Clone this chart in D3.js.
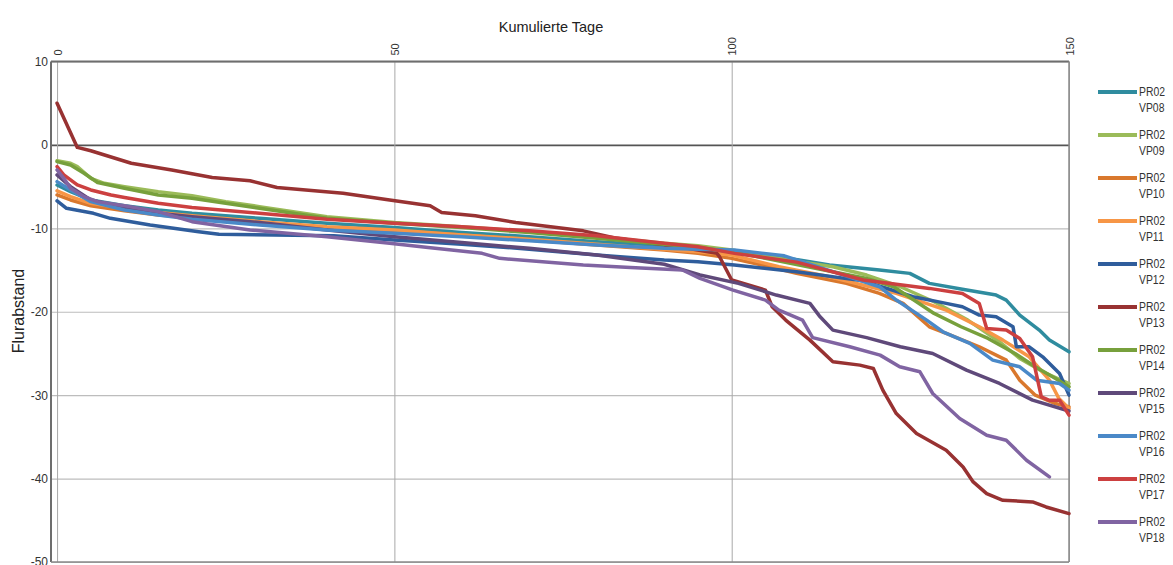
<!DOCTYPE html>
<html>
<head>
<meta charset="utf-8">
<script src="https://cdn.jsdelivr.net/npm/d3@7"></script>
<style>
  body { margin: 0; background: #fff; }
  svg { display: block; }
  .tick text { fill: #333; }
</style>
</head>
<body>
<svg id="chart" width="1173" height="565"></svg>
<script>
// [day, Flurabstand]
const vp08 = [[0,-4.8],[2,-5.6],[5,-6.6],[10,-7.3],[15,-7.8],[20,-8.2],[30,-8.8],[40,-9.4],[50,-9.9],[60,-10.5],[70,-11.0],[80,-11.6],[90,-12.1],[95,-12.4],[100,-12.8],[105,-13.2],[110,-13.8],[114.5,-14.4],[121.9,-15.0],[126.4,-15.4],[129.3,-16.6],[134.2,-17.3],[139.2,-18.0],[140.7,-18.6],[142.7,-20.4],[145.6,-22.2],[147.1,-23.4],[150,-24.8]];
const vp09 = [[0,-1.9],[2,-2.2],[3,-2.6],[5,-4.0],[7,-4.6],[10,-5.0],[15,-5.6],[20,-6.1],[25,-6.8],[30,-7.4],[40,-8.6],[50,-9.3],[60,-9.8],[70,-10.4],[80,-11.0],[90,-11.8],[95,-12.1],[100,-12.6],[105,-13.3],[110,-14.0],[115,-14.6],[120,-15.6],[125,-17.0],[130,-18.8],[135,-21.0],[139.7,-23.6],[142.7,-25.6],[146.6,-27.4],[150,-28.6]];
const vp10 = [[0,-6.0],[2,-6.6],[5,-7.3],[10,-7.9],[15,-8.4],[20,-8.7],[30,-9.3],[40,-9.9],[50,-10.3],[60,-10.8],[70,-11.4],[80,-12.0],[90,-12.6],[95,-13.0],[100,-13.6],[105,-14.5],[109.6,-15.4],[117,-16.6],[121.9,-17.8],[125.4,-19.0],[129.3,-21.8],[131.8,-22.6],[136.7,-24.2],[140.7,-25.8],[142.7,-28.2],[145,-30.0],[148,-31.0],[150,-31.4]];
const vp11 = [[0,-5.5],[2,-6.2],[5,-7.0],[10,-7.6],[15,-8.1],[20,-8.5],[30,-9.2],[40,-9.8],[50,-10.2],[60,-10.8],[70,-11.3],[80,-11.9],[90,-12.5],[95,-12.8],[100,-13.2],[107,-14.6],[114.5,-15.8],[124.4,-17.8],[131.8,-19.8],[136.7,-21.8],[140.2,-23.4],[144.1,-25.4],[147.1,-28.2],[148.5,-30.4],[150,-31.6]];
const vp12 = [[0,-6.7],[1.4,-7.6],[5.4,-8.2],[7.9,-8.8],[13.8,-9.6],[21,-10.4],[24,-10.7],[41,-10.9],[50,-11.4],[60,-11.9],[70,-12.5],[80,-13.2],[90,-13.8],[95,-14.0],[100.4,-14.4],[109.6,-15.2],[119.5,-16.3],[126.9,-18.2],[131.8,-19.0],[134.2,-19.4],[136.7,-20.4],[139.2,-20.6],[141.7,-21.8],[142.2,-24.2],[144.1,-24.2],[146.1,-25.4],[148.6,-27.4],[150,-30.0]];
const vp13 = [[0,5.0],[3,-0.3],[5,-0.7],[11,-2.2],[17,-3.0],[23,-3.9],[28.6,-4.3],[32.6,-5.1],[42.4,-5.8],[49.3,-6.6],[55.3,-7.3],[57,-8.1],[62,-8.5],[68,-9.3],[78,-10.3],[83,-11.2],[92.8,-12.3],[97.8,-13.0],[98.2,-13.4],[100,-16.2],[105,-17.4],[106,-19.4],[108,-21.0],[111.6,-23.4],[115,-26.0],[119,-26.4],[121,-26.8],[122.4,-29.4],[124.4,-32.2],[127.4,-34.6],[131.8,-36.6],[134.3,-38.6],[135.8,-40.4],[137.8,-41.8],[140.2,-42.6],[144.6,-42.8],[146.6,-43.4],[150,-44.2]];
const vp14 = [[0,-2.0],[2,-2.4],[4,-3.4],[6,-4.5],[10,-5.2],[15,-6.0],[20,-6.4],[25,-7.0],[30,-7.6],[40,-8.8],[50,-9.4],[60,-9.9],[70,-10.5],[80,-11.2],[90,-11.9],[95,-12.3],[100,-12.8],[105,-13.6],[110,-14.4],[115,-15.2],[120,-16.0],[124,-17.0],[127,-18.6],[130,-20.2],[134,-21.8],[138,-23.2],[142,-25.0],[145,-26.6],[148,-28.0],[150,-29.0]];
const vp15 = [[0,-3.6],[2,-5.0],[5,-6.6],[10,-7.6],[15,-8.2],[20,-8.6],[30,-9.3],[40,-10.2],[50,-11.0],[60,-11.7],[70,-12.4],[80,-13.2],[90,-14.3],[95.3,-15.6],[101,-16.6],[106.6,-18.0],[111.6,-19.0],[113,-20.5],[115,-22.2],[120,-23.1],[125,-24.2],[129.8,-25.0],[134.8,-27.0],[139.7,-28.6],[144.6,-30.6],[150,-31.9]];
const vp16 = [[0,-4.4],[2,-5.4],[5,-6.8],[10,-7.8],[15,-8.4],[20,-8.9],[30,-9.6],[40,-10.2],[50,-10.6],[60,-11.0],[70,-11.5],[80,-12.0],[90,-12.4],[95,-12.5],[100.4,-12.6],[107.8,-13.3],[115,-15.2],[121.9,-17.0],[124.4,-18.6],[128.9,-21.0],[131.3,-22.4],[135.3,-23.8],[138.7,-25.8],[142.7,-26.6],[145.2,-28.2],[148.6,-28.6],[150,-29.4]];
const vp17 = [[0,-2.6],[1,-3.6],[3,-4.8],[5,-5.4],[8,-6.0],[10,-6.3],[15,-7.0],[20,-7.5],[30,-8.2],[40,-8.9],[50,-9.4],[60,-9.8],[70,-10.3],[80,-10.9],[90,-11.8],[95,-12.2],[100.4,-13.0],[109.6,-14.05],[119.5,-16.2],[129.3,-17.2],[134.2,-17.8],[136.7,-19.0],[137.8,-22.0],[140.7,-22.2],[142.7,-23.2],[144.6,-25.4],[145.9,-30.2],[147,-30.6],[148.6,-30.6],[150,-32.4]];
const vp18 = [[0,-3.0],[1,-4.0],[2,-5.2],[4,-6.2],[6,-6.8],[10,-7.3],[15,-8.0],[20,-9.2],[28.6,-10.2],[40,-11.0],[49.3,-11.8],[55,-12.3],[63,-13.0],[65.6,-13.6],[78,-14.4],[85,-14.7],[92.7,-15.0],[95.3,-16.0],[100.2,-17.4],[105,-18.6],[107,-19.8],[110.5,-21.0],[112,-23.1],[117.5,-24.2],[122,-25.2],[124.9,-26.6],[127.9,-27.2],[129.8,-29.8],[133.8,-32.8],[137.8,-34.8],[140.7,-35.4],[143.7,-37.8],[147.1,-39.8]];

const seriesNames = ['VP08','VP09','VP10','VP11','VP12','VP13','VP14','VP15','VP16','VP17','VP18'];
const seriesData = [vp08, vp09, vp10, vp11, vp12, vp13, vp14, vp15, vp16, vp17, vp18];
const seriesColors = ['#2f8c9f','#9bbb59','#d9782d','#f79646','#2f5d9c','#983232','#77a03c','#5f497a','#4a89c8','#cc4040','#8064a2'];
const xTicks = [0, 50, 100, 150];
const yTicks = [10, 0, -10, -20, -30, -40, -50];

const svg = d3.select('#chart');
const plotLeft = 51, plotRight = 1069, plotTop = 61.5, plotBottom = 562;

const x = d3.scaleLinear().domain([-0.9, 150]).range([plotLeft, plotRight]);
const y = d3.scaleLinear().domain([10, -50]).range([plotTop, plotBottom]);

// horizontal grid + y labels (plain hyphen like the original)
const yAxis = svg.append('g')
    .attr('transform', `translate(${plotLeft},0)`)
    .call(d3.axisLeft(y).tickValues(yTicks).tickSize(-(plotRight - plotLeft)).tickPadding(2).tickFormat(d => String(d)));
yAxis.select('.domain').remove();
yAxis.selectAll('.tick line')
    .attr('stroke', d => d === 0 ? '#555' : '#bdbdbd')
    .attr('stroke-width', d => d === 0 ? 1.6 : 1.2);
yAxis.selectAll('.tick text')
    .attr('font-family', '"Liberation Sans", Arial, sans-serif')
    .attr('font-size', '12px')
    .attr('dx', '-1');

// vertical grid + rotated x labels on top
const xAxis = svg.append('g')
    .attr('transform', `translate(0,${plotTop})`)
    .call(d3.axisTop(x).tickValues(xTicks).tickSize(-(plotBottom - plotTop)).tickFormat(d => String(d)));
xAxis.select('.domain').remove();
xAxis.selectAll('.tick line').attr('stroke', '#a8a8a8').attr('stroke-width', 1);
xAxis.selectAll('.tick text')
    .attr('font-family', '"Liberation Sans", Arial, sans-serif')
    .attr('font-size', '11px')
    .attr('text-anchor', 'start')
    .attr('transform', 'translate(4,-6) rotate(-90)')
    .attr('x', 0).attr('y', 0).attr('dy', 0);

// frame
svg.append('line').attr('x1', plotLeft).attr('x2', plotRight).attr('y1', plotTop).attr('y2', plotTop)
    .attr('stroke', '#6e6e6e').attr('stroke-width', 2);
svg.append('line').attr('x1', plotLeft).attr('x2', plotLeft).attr('y1', plotTop).attr('y2', plotBottom)
    .attr('stroke', '#6e6e6e').attr('stroke-width', 2);
svg.append('line').attr('x1', plotRight).attr('x2', plotRight).attr('y1', plotTop).attr('y2', plotBottom)
    .attr('stroke', '#8a8a8a').attr('stroke-width', 1.5);
svg.append('line').attr('x1', plotLeft).attr('x2', plotRight).attr('y1', plotBottom).attr('y2', plotBottom)
    .attr('stroke', '#8a8a8a').attr('stroke-width', 1.5);

// series
const line = d3.line().x(d => x(d[0])).y(d => y(d[1]));
svg.append('g').selectAll('path')
    .data(seriesData)
    .enter()
    .append('path')
    .attr('d', line)
    .attr('fill', 'none')
    .attr('stroke', (d, i) => seriesColors[i])
    .attr('stroke-width', 3.5)
    .attr('stroke-linejoin', 'round')
    .attr('stroke-linecap', 'round');

// titles
svg.append('text')
    .attr('x', 551).attr('y', 32)
    .attr('text-anchor', 'middle')
    .attr('font-family', '"Liberation Sans", Arial, sans-serif')
    .attr('font-size', '14.5px')
    .attr('fill', '#222')
    .text('Kumulierte Tage');

svg.append('text')
    .attr('transform', 'translate(24,311) rotate(-90)')
    .attr('text-anchor', 'middle')
    .attr('font-family', '"Liberation Sans", Arial, sans-serif')
    .attr('font-size', '16px')
    .attr('fill', '#222')
    .text('Flurabstand');

// legend, text squeezed horizontally like the narrow font of the original
const legend = svg.append('g');
seriesNames.forEach((name, i) => {
    const ly = 92 + i * 43;
    legend.append('line')
        .attr('x1', 1098).attr('x2', 1137).attr('y1', ly).attr('y2', ly)
        .attr('stroke', seriesColors[i]).attr('stroke-width', 4);
    const t = legend.append('text')
        .attr('transform', `translate(1139,${ly}) scale(0.8,1)`)
        .attr('font-family', '"Liberation Sans", Arial, sans-serif')
        .attr('font-size', '13px')
        .attr('fill', '#333');
    t.append('tspan').attr('x', 0).attr('y', 4).text('PR02');
    t.append('tspan').attr('x', 0).attr('y', 20).text(name);
});
</script>
</body>
</html>
